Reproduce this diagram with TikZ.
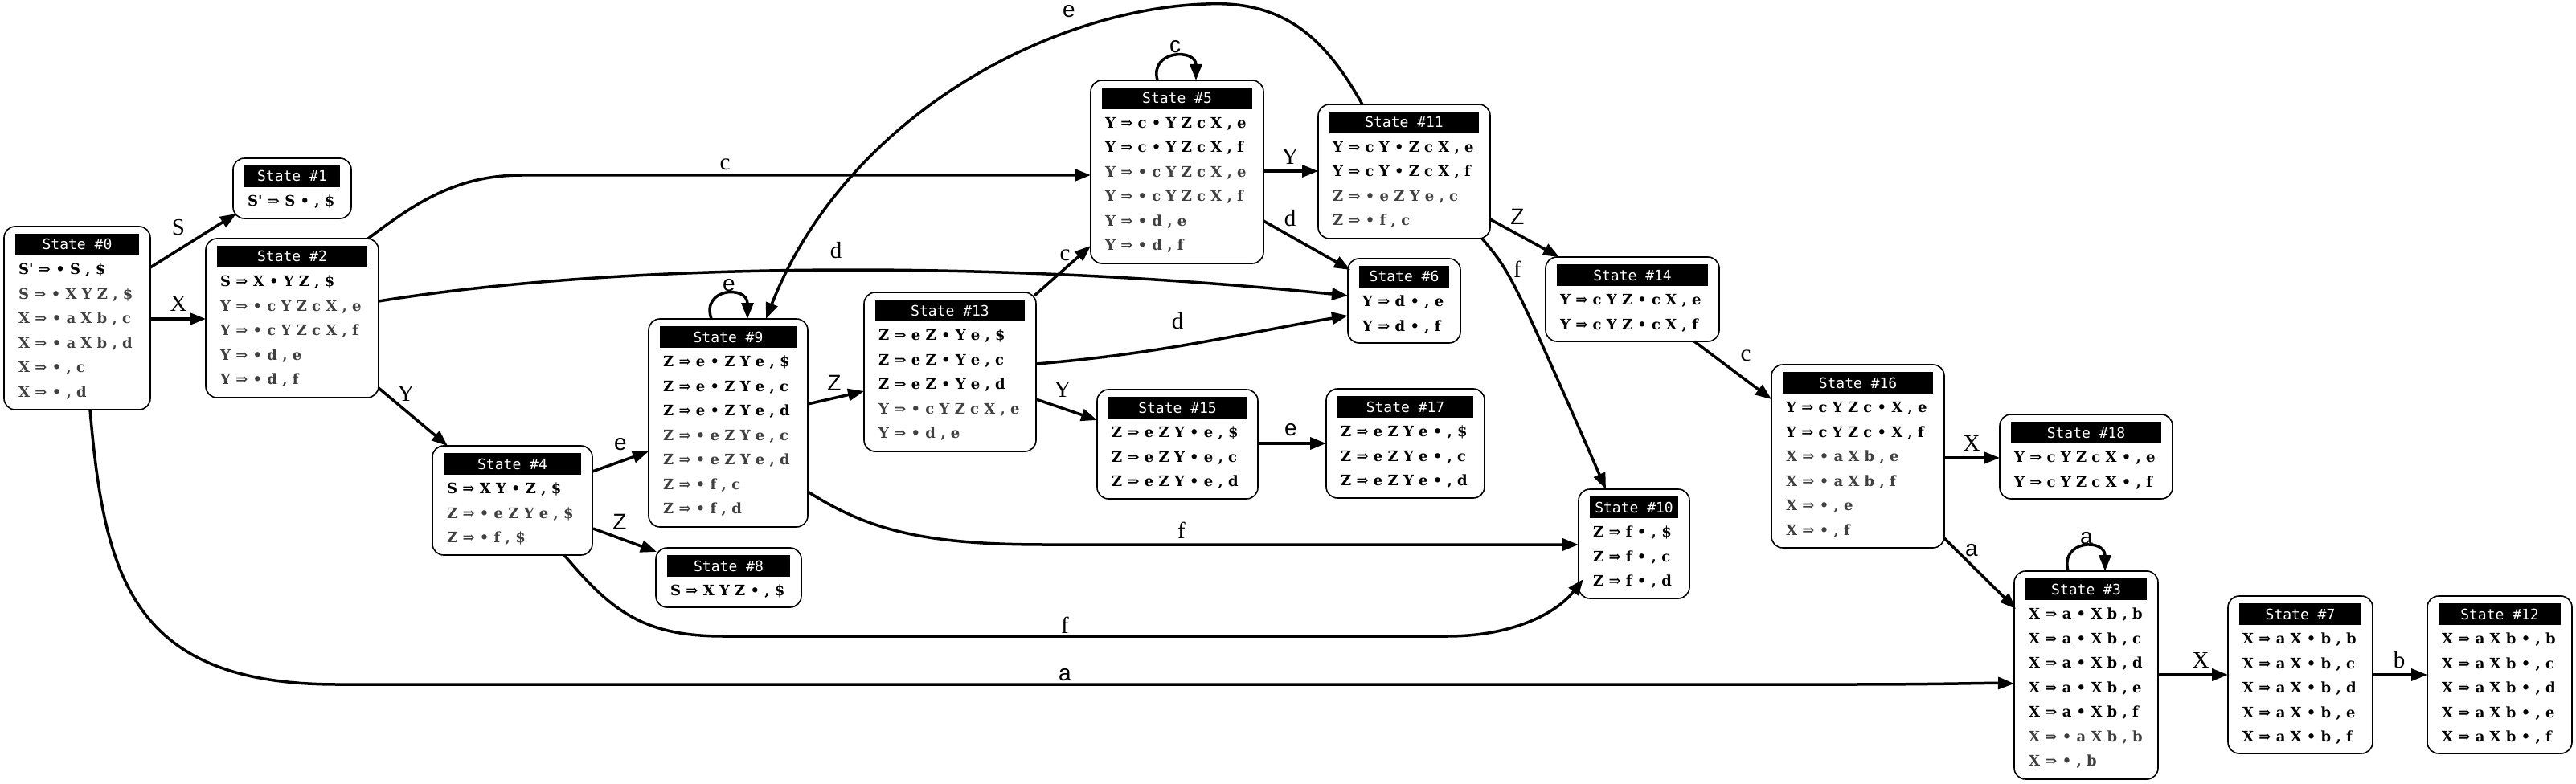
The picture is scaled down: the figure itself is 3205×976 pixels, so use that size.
\documentclass[tikz,border=0pt]{standalone}
\usepackage{fontspec}
\setmainfont{DejaVu Serif}
\newfontfamily\rowfont{DejaVu Serif}
\newfontfamily\hdrfont{DejaVu Sans Mono}
\newfontfamily\lserif{Liberation Serif}
\newfontfamily\lsans{Liberation Sans}
\usetikzlibrary{arrows.meta,calc}
\definecolor{rowgray}{HTML}{404040}
\tikzset{
 stbox/.style={draw=black, line width=1.6pt, rounded corners=14pt, fill=white, inner sep=0pt, outer sep=0pt},
 hdr/.style={fill=black, text=white, inner sep=0pt, outer sep=0pt, font=\hdrfont\fontsize{18}{18}\selectfont, minimum height=27pt, text height=13pt, text depth=0pt},
 itemk/.style={anchor=base west, inner sep=0pt, font=\rowfont\bfseries\fontsize{18}{18}\selectfont, text=black},
 itemg/.style={itemk, text=rowgray},
 edge/.style={line width=3.5pt, -{Triangle[length=20pt,width=15pt]}},
 lser/.style={font=\lserif\fontsize{29}{29}\selectfont, inner sep=0pt},
 lsan/.style={font=\lsans\fontsize{28}{28}\selectfont, inner sep=0pt},
}
\newcommand{\mystate}[6]{%
 \node[stbox, minimum width={#4pt-#2pt}, minimum height={#5pt-#3pt}] (#1) at ({(#2+#4)/2},{(#3+#5)/2}) {};
 \node[hdr, minimum width={#4pt-#2pt-28pt}, anchor=north] (#1h) at ($(#1.north)+(0,9)$) {State \##6};
}
\newcommand{\rk}[3]{\node[itemk] (#1k#2) at ($(#1.north west)+(18,{59.5+30.5*(#2-1)})$) {#3};}
\newcommand{\rg}[3]{\node[itemg] (#1g#2) at ($(#1.north west)+(18,{59.5+30.5*(#2-1)})$) {#3};}
\newcommand{\sq}{\textquotesingle}
\begin{document}
\begin{tikzpicture}[x=1pt,y=-1pt]
\fill[white] (0,0) rectangle (3205,976);
\useasboundingbox (0,0) rectangle (3205,976);

% states
\mystate{n0}{5}{282}{187}{510}{0}
\rk{n0}{1}{S\sq{} ⇒ • S , \$}
\rg{n0}{2}{S ⇒ • X Y Z , \$}
\rg{n0}{3}{X ⇒ • a X b , c}
\rg{n0}{4}{X ⇒ • a X b , d}
\rg{n0}{5}{X ⇒ • , c}
\rg{n0}{6}{X ⇒ • , d}

\mystate{n1}{290}{197}{437}{272}{1}
\rk{n1}{1}{S\sq{} ⇒ S • , \$}

\mystate{n2}{256}{297}{471}{495}{2}
\rk{n2}{1}{S ⇒ X • Y Z , \$}
\rg{n2}{2}{Y ⇒ • c Y Z c X , e}
\rg{n2}{3}{Y ⇒ • c Y Z c X , f}
\rg{n2}{4}{Y ⇒ • d , e}
\rg{n2}{5}{Y ⇒ • d , f}

\mystate{n3}{2506}{711}{2685}{970}{3}
\rk{n3}{1}{X ⇒ a • X b , b}
\rk{n3}{2}{X ⇒ a • X b , c}
\rk{n3}{3}{X ⇒ a • X b , d}
\rk{n3}{4}{X ⇒ a • X b , e}
\rk{n3}{5}{X ⇒ a • X b , f}
\rg{n3}{6}{X ⇒ • a X b , b}
\rg{n3}{7}{X ⇒ • , b}

\mystate{n4}{538}{555}{737}{691}{4}
\rk{n4}{1}{S ⇒ X Y • Z , \$}
\rg{n4}{2}{Z ⇒ • e Z Y e , \$}
\rg{n4}{3}{Z ⇒ • f , \$}

\mystate{n5}{1357}{100}{1572}{328}{5}
\rk{n5}{1}{Y ⇒ c • Y Z c X , e}
\rk{n5}{2}{Y ⇒ c • Y Z c X , f}
\rg{n5}{3}{Y ⇒ • c Y Z c X , e}
\rg{n5}{4}{Y ⇒ • c Y Z c X , f}
\rg{n5}{5}{Y ⇒ • d , e}
\rg{n5}{6}{Y ⇒ • d , f}

\mystate{n6}{1677}{322}{1817}{427}{6}
\rk{n6}{1}{Y ⇒ d • , e}
\rk{n6}{2}{Y ⇒ d • , f}

\mystate{n7}{2772}{742}{2952}{938}{7}
\rk{n7}{1}{X ⇒ a X • b , b}
\rk{n7}{2}{X ⇒ a X • b , c}
\rk{n7}{3}{X ⇒ a X • b , d}
\rk{n7}{4}{X ⇒ a X • b , e}
\rk{n7}{5}{X ⇒ a X • b , f}

\mystate{n8}{816}{682}{997}{756}{8}
\rk{n8}{1}{S ⇒ X Y Z • , \$}

\mystate{n9}{807}{397}{1005}{656}{9}
\rk{n9}{1}{Z ⇒ e • Z Y e , \$}
\rk{n9}{2}{Z ⇒ e • Z Y e , c}
\rk{n9}{3}{Z ⇒ e • Z Y e , d}
\rg{n9}{4}{Z ⇒ • e Z Y e , c}
\rg{n9}{5}{Z ⇒ • e Z Y e , d}
\rg{n9}{6}{Z ⇒ • f , c}
\rg{n9}{7}{Z ⇒ • f , d}

\mystate{n10}{1964}{609}{2102}{745}{10}
\rk{n10}{1}{Z ⇒ f • , \$}
\rk{n10}{2}{Z ⇒ f • , c}
\rk{n10}{3}{Z ⇒ f • , d}

\mystate{n11}{1640}{130}{1854}{297}{11}
\rk{n11}{1}{Y ⇒ c Y • Z c X , e}
\rk{n11}{2}{Y ⇒ c Y • Z c X , f}
\rg{n11}{3}{Z ⇒ • e Z Y e , c}
\rg{n11}{4}{Z ⇒ • f , c}

\mystate{n12}{3020}{742}{3200}{938}{12}
\rk{n12}{1}{X ⇒ a X b • , b}
\rk{n12}{2}{X ⇒ a X b • , c}
\rk{n12}{3}{X ⇒ a X b • , d}
\rk{n12}{4}{X ⇒ a X b • , e}
\rk{n12}{5}{X ⇒ a X b • , f}

\mystate{n13}{1075}{364}{1289}{562}{13}
\rk{n13}{1}{Z ⇒ e Z • Y e , \$}
\rk{n13}{2}{Z ⇒ e Z • Y e , c}
\rk{n13}{3}{Z ⇒ e Z • Y e , d}
\rg{n13}{4}{Y ⇒ • c Y Z c X , e}
\rg{n13}{5}{Y ⇒ • d , e}

\mystate{n14}{1923}{320}{2139}{425}{14}
\rk{n14}{1}{Y ⇒ c Y Z • c X , e}
\rk{n14}{2}{Y ⇒ c Y Z • c X , f}

\mystate{n15}{1365}{485}{1565}{621}{15}
\rk{n15}{1}{Z ⇒ e Z Y • e , \$}
\rk{n15}{2}{Z ⇒ e Z Y • e , c}
\rk{n15}{3}{Z ⇒ e Z Y • e , d}

\mystate{n16}{2204}{454}{2419}{682}{16}
\rk{n16}{1}{Y ⇒ c Y Z c • X , e}
\rk{n16}{2}{Y ⇒ c Y Z c • X , f}
\rg{n16}{3}{X ⇒ • a X b , e}
\rg{n16}{4}{X ⇒ • a X b , f}
\rg{n16}{5}{X ⇒ • , e}
\rg{n16}{6}{X ⇒ • , f}

\mystate{n17}{1650}{484}{1847}{620}{17}
\rk{n17}{1}{Z ⇒ e Z Y e • , \$}
\rk{n17}{2}{Z ⇒ e Z Y e • , c}
\rk{n17}{3}{Z ⇒ e Z Y e • , d}

\mystate{n18}{2488}{516}{2703}{621}{18}
\rk{n18}{1}{Y ⇒ c Y Z c X • , e}
\rk{n18}{2}{Y ⇒ c Y Z c X • , f}

% edges
\draw[edge] ($(n0.north west)+(182,51)$) -- ($(n1.north west)+(4,69)$);
\draw[edge] ($(n0.north west)+(182,115)$) -- ($(n2.north west)+(0,100)$);
\draw[edge] ($(n0.north west)+(107,228)$) .. controls (130,720) and (165,852) .. (420,852) -- (2300,852) .. controls (2420,852) and (2470,850) .. ($(n3.north west)+(0,140)$);
\draw[edge] ($(n2.north west)+(202,0)$) .. controls (520,250) and (570,218) .. (650,218) -- ($(n5.north west)+(0,118)$);
\draw[edge] ($(n2.north west)+(215,78)$) .. controls (750,330) and (1200,320) .. ($(n6.north west)+(0,46)$);
\draw[edge] ($(n2.north west)+(215,186)$) -- ($(n4.north west)+(19,0)$);
\draw[edge] ($(n4.north west)+(199,32)$) -- ($(n9.north west)+(0,165)$);
\draw[edge] ($(n4.north west)+(200,103)$) -- ($(n8.north west)+(1,5)$);
\draw[edge] ($(n4.north west)+(164,136)$) .. controls (760,760) and (800,792) .. (900,792) -- (1800,792) .. controls (1880,792) and (1935,765) .. ($(n10.north west)+(6,112)$);
\draw[edge] ($(n9.north west)+(78,0)$) .. controls (872,358) and (930,355) .. ($(n9.north west)+(123,0)$);
\draw[edge] ($(n9.north west)+(198,106)$) -- ($(n13.north west)+(0,123)$);
\draw[edge] ($(n9.north west)+(198,215)$) .. controls (1080,660) and (1150,678) .. (1300,678) -- ($(n10.north west)+(0,69)$);
\draw[edge] ($(n13.north west)+(212,4)$) -- ($(n5.north west)+(0,206)$);
\draw[edge] ($(n13.north west)+(214,89)$) .. controls (1450,440) and (1560,412) .. ($(n6.north west)+(0,71)$);
\draw[edge] ($(n13.north west)+(214,133)$) -- ($(n15.north west)+(0,38)$);
\draw[edge] ($(n15.north west)+(200,67)$) -- ($(n17.north west)+(0,68)$);
\draw[edge] ($(n5.north west)+(83,0)$) .. controls (1430,62) and (1488,60) .. ($(n5.north west)+(131,0)$);
\draw[edge] ($(n5.north west)+(215,113)$) -- ($(n11.north west)+(0,83)$);
\draw[edge] ($(n5.north west)+(215,175)$) -- ($(n6.north west)+(3,14)$);
\draw[edge] ($(n11.north west)+(55,0)$) .. controls (1650,50) and (1600,0) .. (1500,5) .. controls (1300,12) and (1050,150) .. ($(n9.north west)+(146,0)$);
\draw[edge] ($(n11.north west)+(214,143)$) -- ($(n14.north west)+(17,0)$);
\draw[edge] ($(n11.north west)+(204,167)$) .. controls (1880,340) .. ($(n10.north west)+(34,0)$);
\draw[edge] ($(n14.north west)+(185,105)$) -- ($(n16.north west)+(0,43)$);
\draw[edge] ($(n16.north west)+(215,116)$) -- ($(n18.north west)+(0,54)$);
\draw[edge] ($(n16.north west)+(215,216)$) -- ($(n3.north west)+(2,47)$);
\draw[edge] ($(n3.north west)+(67,0)$) .. controls (2563,672) and (2619,670) .. ($(n3.north west)+(113,0)$);
\draw[edge] ($(n3.north west)+(179,129)$) -- ($(n7.north west)+(0,98)$);
\draw[edge] ($(n7.north west)+(180,98)$) -- ($(n12.north west)+(0,98)$);

% edge labels
\node[lser] (l01) at (222,283) {S};
\node[lser] (l02) at (222,378) {X};
\node[lsan] (l03) at (1325,840) {a};
\node[lser] (l25) at (902,205) {c};
\node[lser] (l26) at (1040,312) {d};
\node[lser] (l24) at (505,490) {Y};
\node[lsan] (l49) at (772,553) {e};
\node[lsan] (l48) at (771,650) {Z};
\node[lser] (l410) at (1325,778) {f};
\node[lsan] (l99) at (907,355) {e};
\node[lsan] (l913) at (1038,477) {Z};
\node[lser] (l910) at (1470,660) {f};
\node[lser] (l135) at (1325,318) {c};
\node[lser] (l136) at (1465,400) {d};
\node[lser] (l1315) at (1322,485) {Y};
\node[lsan] (l1517) at (1606,535) {e};
\node[lsan] (l55) at (1462,58) {c};
\node[lser] (l511) at (1605,195) {Y};
\node[lser] (l56) at (1605,272) {d};
\node[lsan] (l119) at (1330,14) {e};
\node[lsan] (l1114) at (1888,270) {Z};
\node[lser] (l1110) at (1888,335) {f};
\node[lser] (l1416) at (2172,443) {c};
\node[lser] (l1618) at (2453,552) {X};
\node[lsan] (l163) at (2453,685) {a};
\node[lsan] (l33) at (2596,670) {a};
\node[lser] (l37) at (2738,822) {X};
\node[lser] (l712) at (2985,822) {b};
\end{tikzpicture}
\end{document}
